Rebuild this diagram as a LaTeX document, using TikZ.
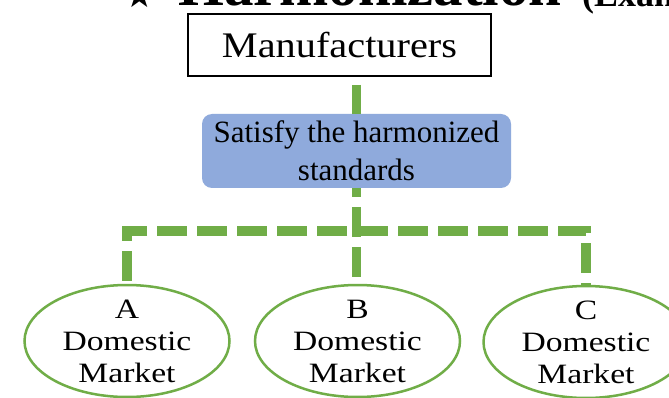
\documentclass[tikz,border=0pt]{standalone}
\usepackage{fontspec}
\setmainfont{Liberation Serif}
\newfontfamily\manufont[FakeStretch=1.12]{Liberation Serif}
\newfontfamily\mktfont[FakeStretch=1.2]{Liberation Serif}
\newfontfamily\symfont{DejaVu Sans}
\usetikzlibrary{shapes.geometric}
\definecolor{pgreen}{HTML}{70AD47}
\definecolor{pblue}{HTML}{8FAADC}
\tikzset{
  titletext/.style={anchor=base west, inner sep=0pt},
  manubox/.style={draw=black, line width=1.6pt, minimum width=303, minimum height=62, inner sep=0pt,
    font=\manufont\fontsize{36}{40}\selectfont},
  satbox/.style={fill=pblue, rounded corners=10pt, minimum width=309, minimum height=74, inner sep=0pt,
    align=center, font=\fontsize{31}{38}\selectfont},
  mktshape/.style={ellipse, draw=pgreen, line width=2.5pt, minimum width=205, minimum height=112, inner sep=0pt},
  mkttext/.style={align=center, inner sep=0pt, font=\mktfont\fontsize{28}{32}\selectfont},
  conn/.style={draw=pgreen, line width=9.5pt, dash pattern=on 30pt off 10pt, line join=miter}
}
\begin{document}
\begin{tikzpicture}[x=1pt,y=-1pt]
\useasboundingbox (0,0) rectangle (669,398);
\fill[white] (0,0) rectangle (669,398);
\begin{scope}
\clip (0,0) rectangle (669,398);
% title (cut off at the top)
\node[titletext, font=\symfont\fontsize{34}{36}\selectfont] (star) at (124,8) {★};
\node[titletext, font=\bfseries\fontsize{59}{60}\selectfont] (title) at (178,6) {Harmonization};
\node[titletext, font=\bfseries\fontsize{36}{40}\selectfont] (exam) at (582,7) {(Exam};

% boxes
\node[manubox] (manu) at (339.5,45) {Manufacturers};
\node[satbox] (sat) at (356.5,151) {Satisfy the harmonized\\standards};

% markets
\node[mktshape] (A) at (127,341) {};
\node[mkttext] (Atext) at (A.center) {A\\Domestic\\Market};
\node[mktshape] (B) at (357.5,341) {};
\node[mkttext] (Btext) at (B.center) {B\\Domestic\\Market};
\node[mktshape] (C) at (586,342) {};
\node[mkttext] (Ctext) at (C.center) {C\\Domestic\\Market};

% connectors
\coordinate (J) at (356.5,231);
\draw[conn, dash phase=32pt] (manu.south -| sat.north) -- (sat.north);
\draw[conn, dash phase=30.5pt] (J) -| (A.north);
\draw[conn, dash phase=38.5pt] (J) -| (C.north);
\draw[conn, dash phase=21pt] (sat.south) -- (sat.south |- B.north);
\end{scope}
\end{tikzpicture}
\end{document}
